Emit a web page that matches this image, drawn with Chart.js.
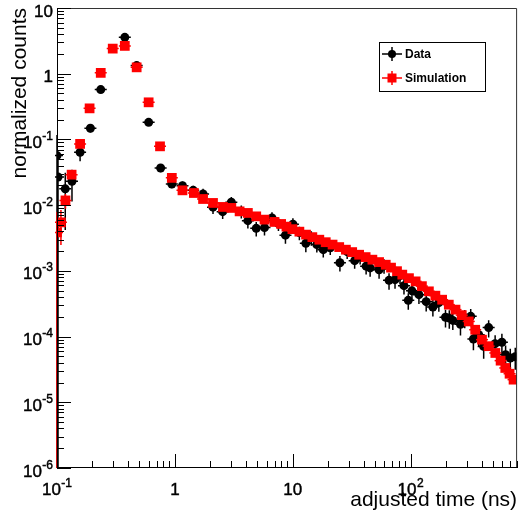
<!DOCTYPE html>
<html><head><meta charset="utf-8">
<script src="https://cdn.jsdelivr.net/npm/chart.js@4.4.1/dist/chart.umd.min.js"></script>
<style>html,body{margin:0;padding:0;background:#fff;}#wrap{width:524px;height:518px;}</style>
</head><body><div id="wrap"><canvas id="c" width="524" height="518"></canvas></div>
<script>
// ---- data ----
const seriesNames = ['Data', 'Simulation'];
const xTitle = 'adjusted time (ns)';
const yTitle = 'normalized counts';

const dataX = [0.1, 0.102, 0.1175, 0.134, 0.157, 0.192, 0.235, 0.376, 0.474, 0.599, 0.757, 0.942, 1.16, 1.43,
  1.734, 2.106, 2.543, 3.012, 3.66, 4.161, 4.9, 5.758, 6.664, 7.56,
  8.67, 10.03, 11.38, 12.91, 14.37, 16.0, 18.15, 20.8, 25.12, 28.95,
  33.5, 37.28, 41.91, 45.32, 53.98, 59.48, 65.56, 73.7, 81.23, 87.8,
  95.5, 102.6, 117.6, 135.5, 154.4, 173.5, 197.6, 212.8, 227.9, 264.7,
  287.7, 323.3, 340.8, 377.9, 416.4, 459.0, 520.9, 594.5, 639.1, 700.1, 771.7];
const dataY = [0.0567, 0.0268, 0.0177, 0.023, 0.0637, 0.148, 0.573, 3.58, 1.33, 0.182, 0.0368, 0.021, 0.0198, 0.0168,
  0.0148, 0.00932, 0.00796, 0.0111, 0.00804, 0.00581, 0.00444, 0.00455, 0.00639, 0.00523,
  0.00349, 0.00514, 0.00381, 0.00262, 0.0032, 0.00251, 0.0021, 0.00225, 0.00133, 0.00196,
  0.00143, 0.00165, 0.00118, 0.00111, 0.00104, 0.0012, 0.000717, 0.000735, 0.000845, 0.000595,
  0.000356, 0.000496, 0.000434, 0.00034, 0.000282, 0.000328, 0.000197, 0.000191, 0.000176, 0.000154,
  0.000194, 0.000203, 0.0000919, 0.000107, 0.0000709, 0.000137, 0.000078, 0.0000821, 0.000053, 0.0000472, 0.0000494];
const dataErr = [0.06, 0.027, 0.0135, 0.0116, 0.017, 0.02, 0.04, 0.2, 0.08, 0.015, 0.005, 0.003, 0.003, 0.003,
  0.003, 0.002, 0.0018, 0.0022, 0.0018, 0.0014, 0.0011, 0.0011, 0.0014, 0.0012,
  0.0009, 0.0012, 0.0009, 0.0007, 0.0008, 0.0006, 0.0005, 0.0005, 0.00035, 0.00045,
  0.00035, 0.0004, 0.0003, 0.0003, 0.00028, 0.0003, 0.0002, 0.0002, 0.00022, 0.00016,
  0.0001, 0.00013, 0.00012, 0.0001, 0.00008, 0.00009, 0.00006, 0.00006, 0.00005, 0.00005,
  0.00006, 0.00006, 0.00003, 0.000035, 0.000025, 0.00004, 0.000027, 0.000028, 0.00002, 0.000018, 0.000018];

const simX = [0.1, 0.108, 0.118, 0.133, 0.157, 0.189, 0.235, 0.297, 0.376, 0.474, 0.599, 0.748, 0.942, 1.16, 1.45,
  1.734, 2.106, 2.558, 3.012, 3.54, 4.161, 4.9, 5.758, 6.995, 7.97,
  8.84, 9.93, 11.38, 12.96, 14.66, 16.8, 19.05, 21.76, 24.78, 28.24,
  31.92, 36.57, 41.51, 47.37, 53.98, 61.49, 68.17, 76.62, 84.95, 96.76,
  110.2, 124.6, 142.8, 162.1, 185.0, 210.7, 240.2, 271.5, 311.1, 353.0,
  402.9, 459.0, 522.9, 579.7, 635.3, 690.6, 746.6];
const simY = [0.00385, 0.00547, 0.0118, 0.0291, 0.0855, 0.297, 1.03, 2.41, 2.65, 1.25, 0.367, 0.0785, 0.026, 0.0168, 0.0153,
  0.0124, 0.0108, 0.00939, 0.00907, 0.00804, 0.00761, 0.00675, 0.00602, 0.00555, 0.00517,
  0.00471, 0.00431, 0.00395, 0.00356, 0.00326, 0.00298, 0.00273, 0.00251, 0.0023, 0.0021,
  0.00193, 0.00176, 0.00162, 0.00148, 0.00136, 0.00124, 0.00112, 0.000989, 0.000876, 0.000774,
  0.000692, 0.000585, 0.000488, 0.000419, 0.000364, 0.000306, 0.000257, 0.000212, 0.00017, 0.000127,
  0.0000897, 0.0000714, 0.0000563, 0.000043, 0.0000333, 0.0000272, 0.0000221];
// errors visible only on the first simulation bins
const simErr = [0.004, 0.003, 0.003, 0.004, 0.008, 0.02, 0.05, 0.1, 0.1, 0.06, 0.02, 0.005, 0.002, 0.0015, 0.0013];

const xTickValues = [0.1, 1, 10, 100];
const xTickLabels = ['10^-1', '1', '10', '10^2'];
const yTickValues = [1e-6, 1e-5, 1e-4, 1e-3, 1e-2, 1e-1, 1, 10];
const yTickLabels = ['10^-6', '10^-5', '10^-4', '10^-3', '10^-2', '10^-1', '1', '10'];

// ---- rendering ----
const FONT = "'Liberation Sans', Arial, Helvetica, sans-serif";
const BLACK = '#000000', RED = '#ff0000';

function toPoints(xs, ys) { return xs.map((x, i) => ({x: x, y: ys[i]})); }

// draws "base^exp" with a raised exponent; anchor: 'right' or 'center'
function drawPowerLabel(ctx, label, x, baseY, anchor) {
  const parts = label.split('^');
  const base = parts[0], exp = parts[1] || '';
  ctx.font = '17px ' + FONT;
  const wb = ctx.measureText(base).width;
  ctx.font = '12px ' + FONT;
  const we = exp ? ctx.measureText(exp).width + 0.5 : 0;
  const total = wb + we;
  const x0 = anchor === 'right' ? x - total : x - total / 2;
  ctx.textAlign = 'left';
  ctx.textBaseline = 'alphabetic';
  ctx.lineWidth = 0.45;
  ctx.strokeStyle = '#000';
  ctx.fillStyle = '#000';
  ctx.font = '17px ' + FONT;
  ctx.fillText(base, x0, baseY);
  ctx.strokeText(base, x0, baseY);
  if (exp) {
    ctx.font = '12px ' + FONT;
    ctx.fillText(exp, x0 + wb + 0.5, baseY - 8);
    ctx.strokeText(exp, x0 + wb + 0.5, baseY - 8);
  }
}

const errorBars = {
  id: 'errorBars',
  beforeDatasetDraw(chart, args) {
    const ds = chart.data.datasets[args.index];
    const errs = ds.errors;
    if (!errs) return;
    const xs = chart.scales.x, ys = chart.scales.y, a = chart.chartArea, ctx = chart.ctx;
    ctx.save();
    ctx.beginPath();
    ctx.rect(a.left - 2, a.top, a.right - a.left + 2, a.bottom - a.top);
    ctx.clip();
    ctx.strokeStyle = ds.backgroundColor;
    ctx.lineWidth = 1.5;
    ds.data.forEach((p, i) => {
      const px = xs.getPixelForValue(p.x), py = ys.getPixelForValue(p.y);
      ctx.beginPath();
      ctx.moveTo(px - 6, py); ctx.lineTo(px + 6, py);
      const e = errs[i] || 0;
      if (e > 0) {
        const lo = p.y - e;
        const pLo = lo > 0 ? ys.getPixelForValue(lo) : a.bottom;
        const pHi = ys.getPixelForValue(p.y + e);
        ctx.moveTo(px, pHi); ctx.lineTo(px, pLo);
      }
      ctx.stroke();
    });
    ctx.restore();
  }
};

const frameTicks = {
  id: 'frameTicks',
  afterDraw(chart) {
    const {ctx, chartArea: a, scales: {x, y}} = chart;
    ctx.save();
    ctx.lineWidth = 1;
    ctx.strokeStyle = '#333';
    ctx.beginPath();
    ctx.moveTo(a.left, a.top + 0.5); ctx.lineTo(a.right - 0.5, a.top + 0.5); ctx.lineTo(a.right - 0.5, a.bottom);
    ctx.stroke();
    ctx.strokeStyle = '#000';
    ctx.beginPath();
    ctx.moveTo(a.left + 0.5, a.top); ctx.lineTo(a.left + 0.5, a.bottom - 0.5); ctx.lineTo(a.right, a.bottom - 0.5);
    ctx.stroke();
    ctx.beginPath();
    for (let e = -1; e <= 3; e++) {
      for (let m = 1; m <= 9; m++) {
        const v = m * Math.pow(10, e);
        if (v < x.min * 0.999 || v > x.max * 1.001) continue;
        const px = Math.round(x.getPixelForValue(v)) + 0.5;
        const len = m === 1 ? 14 : 7;
        ctx.moveTo(px, a.bottom); ctx.lineTo(px, a.bottom - len);
      }
    }
    for (let e = -6; e <= 1; e++) {
      for (let m = 1; m <= 9; m++) {
        const v = m * Math.pow(10, e);
        if (v < y.min * 0.999 || v > y.max * 1.001) continue;
        const py = Math.round(y.getPixelForValue(v)) + 0.5;
        const len = m === 1 ? 14 : 7;
        ctx.moveTo(a.left, py); ctx.lineTo(a.left + len, py);
      }
    }
    ctx.stroke();

    // tick labels
    xTickValues.forEach((v, i) => drawPowerLabel(ctx, xTickLabels[i], x.getPixelForValue(v), a.bottom + 27, 'center'));
    yTickValues.forEach((v, i) => drawPowerLabel(ctx, yTickLabels[i], a.left - 4, y.getPixelForValue(v) + 8.5, 'right'));

    // legend box
    const bx = 379.5, by = 42.5, bw = 106, bh = 49;
    ctx.fillStyle = '#fff';
    ctx.fillRect(bx, by, bw, bh);
    ctx.lineWidth = 1;
    ctx.strokeStyle = '#000';
    ctx.strokeRect(bx, by, bw, bh);
    const ds = chart.data.datasets;
    const rows = [54, 78];
    ctx.font = 'bold 12px ' + FONT;
    ctx.textBaseline = 'middle';
    ctx.textAlign = 'left';
    rows.forEach((ry, i) => {
      const col = ds[i].backgroundColor;
      const mx = 392;
      ctx.strokeStyle = col; ctx.lineWidth = 1.5;
      ctx.beginPath();
      ctx.moveTo(382, ry); ctx.lineTo(402, ry);
      ctx.moveTo(mx, ry - 7); ctx.lineTo(mx, ry + 7);
      ctx.stroke();
      ctx.fillStyle = col;
      if (i === 0) { ctx.beginPath(); ctx.arc(mx, ry, 4, 0, Math.PI * 2); ctx.fill(); }
      else { ctx.fillRect(mx - 4.5, ry - 4.5, 9, 9); }
      ctx.fillStyle = '#000';
      ctx.fillText(seriesNames[i], 405, ry + 1);
    });
    ctx.restore();
  }
};

new Chart(document.getElementById('c'), {
  type: 'scatter',
  data: {
    datasets: [
      { label: seriesNames[0], data: toPoints(dataX, dataY), errors: dataErr,
        backgroundColor: BLACK, borderColor: BLACK, borderWidth: 0,
        pointStyle: 'circle', pointRadius: 4.5, pointHoverRadius: 4.5, order: 1 },
      { label: seriesNames[1], data: toPoints(simX, simY), errors: simErr,
        backgroundColor: RED, borderColor: RED, borderWidth: 0,
        pointStyle: 'rect', pointRadius: 6.9, pointHoverRadius: 6.9, order: 0 }
    ]
  },
  options: {
    responsive: false,
    devicePixelRatio: 1,
    animation: false,
    events: [],
    layout: { padding: { top: 8, right: 6, left: 0, bottom: 0 } },
    plugins: { legend: { display: false }, tooltip: { enabled: false } },
    scales: {
      x: {
        type: 'logarithmic', position: 'bottom', min: 0.1, max: 800,
        grid: { display: false, drawTicks: false },
        border: { display: false },
        afterBuildTicks: (s) => { s.ticks = xTickValues.map(v => ({value: v})); },
        afterFit: (s) => { s.height = 50; s.paddingLeft = 0; s.paddingRight = 0; },
        ticks: { display: false },
        title: { display: true, text: xTitle, align: 'end', color: '#000',
          font: { family: FONT, size: 21 }, padding: { top: 0, bottom: 5 } }
      },
      y: {
        type: 'logarithmic', position: 'left', min: 1e-6, max: 10,
        grid: { display: false, drawTicks: false },
        border: { display: false },
        afterBuildTicks: (s) => { s.ticks = yTickValues.map(v => ({value: v})); },
        afterFit: (s) => { s.width = 57; s.paddingTop = 0; s.paddingBottom = 0; },
        ticks: { display: false },
        title: { display: true, text: yTitle, align: 'end', color: '#000',
          font: { family: FONT, size: 21 }, padding: { top: 8, bottom: 0 } }
      }
    }
  },
  plugins: [errorBars, frameTicks]
});
</script>
</body></html>
